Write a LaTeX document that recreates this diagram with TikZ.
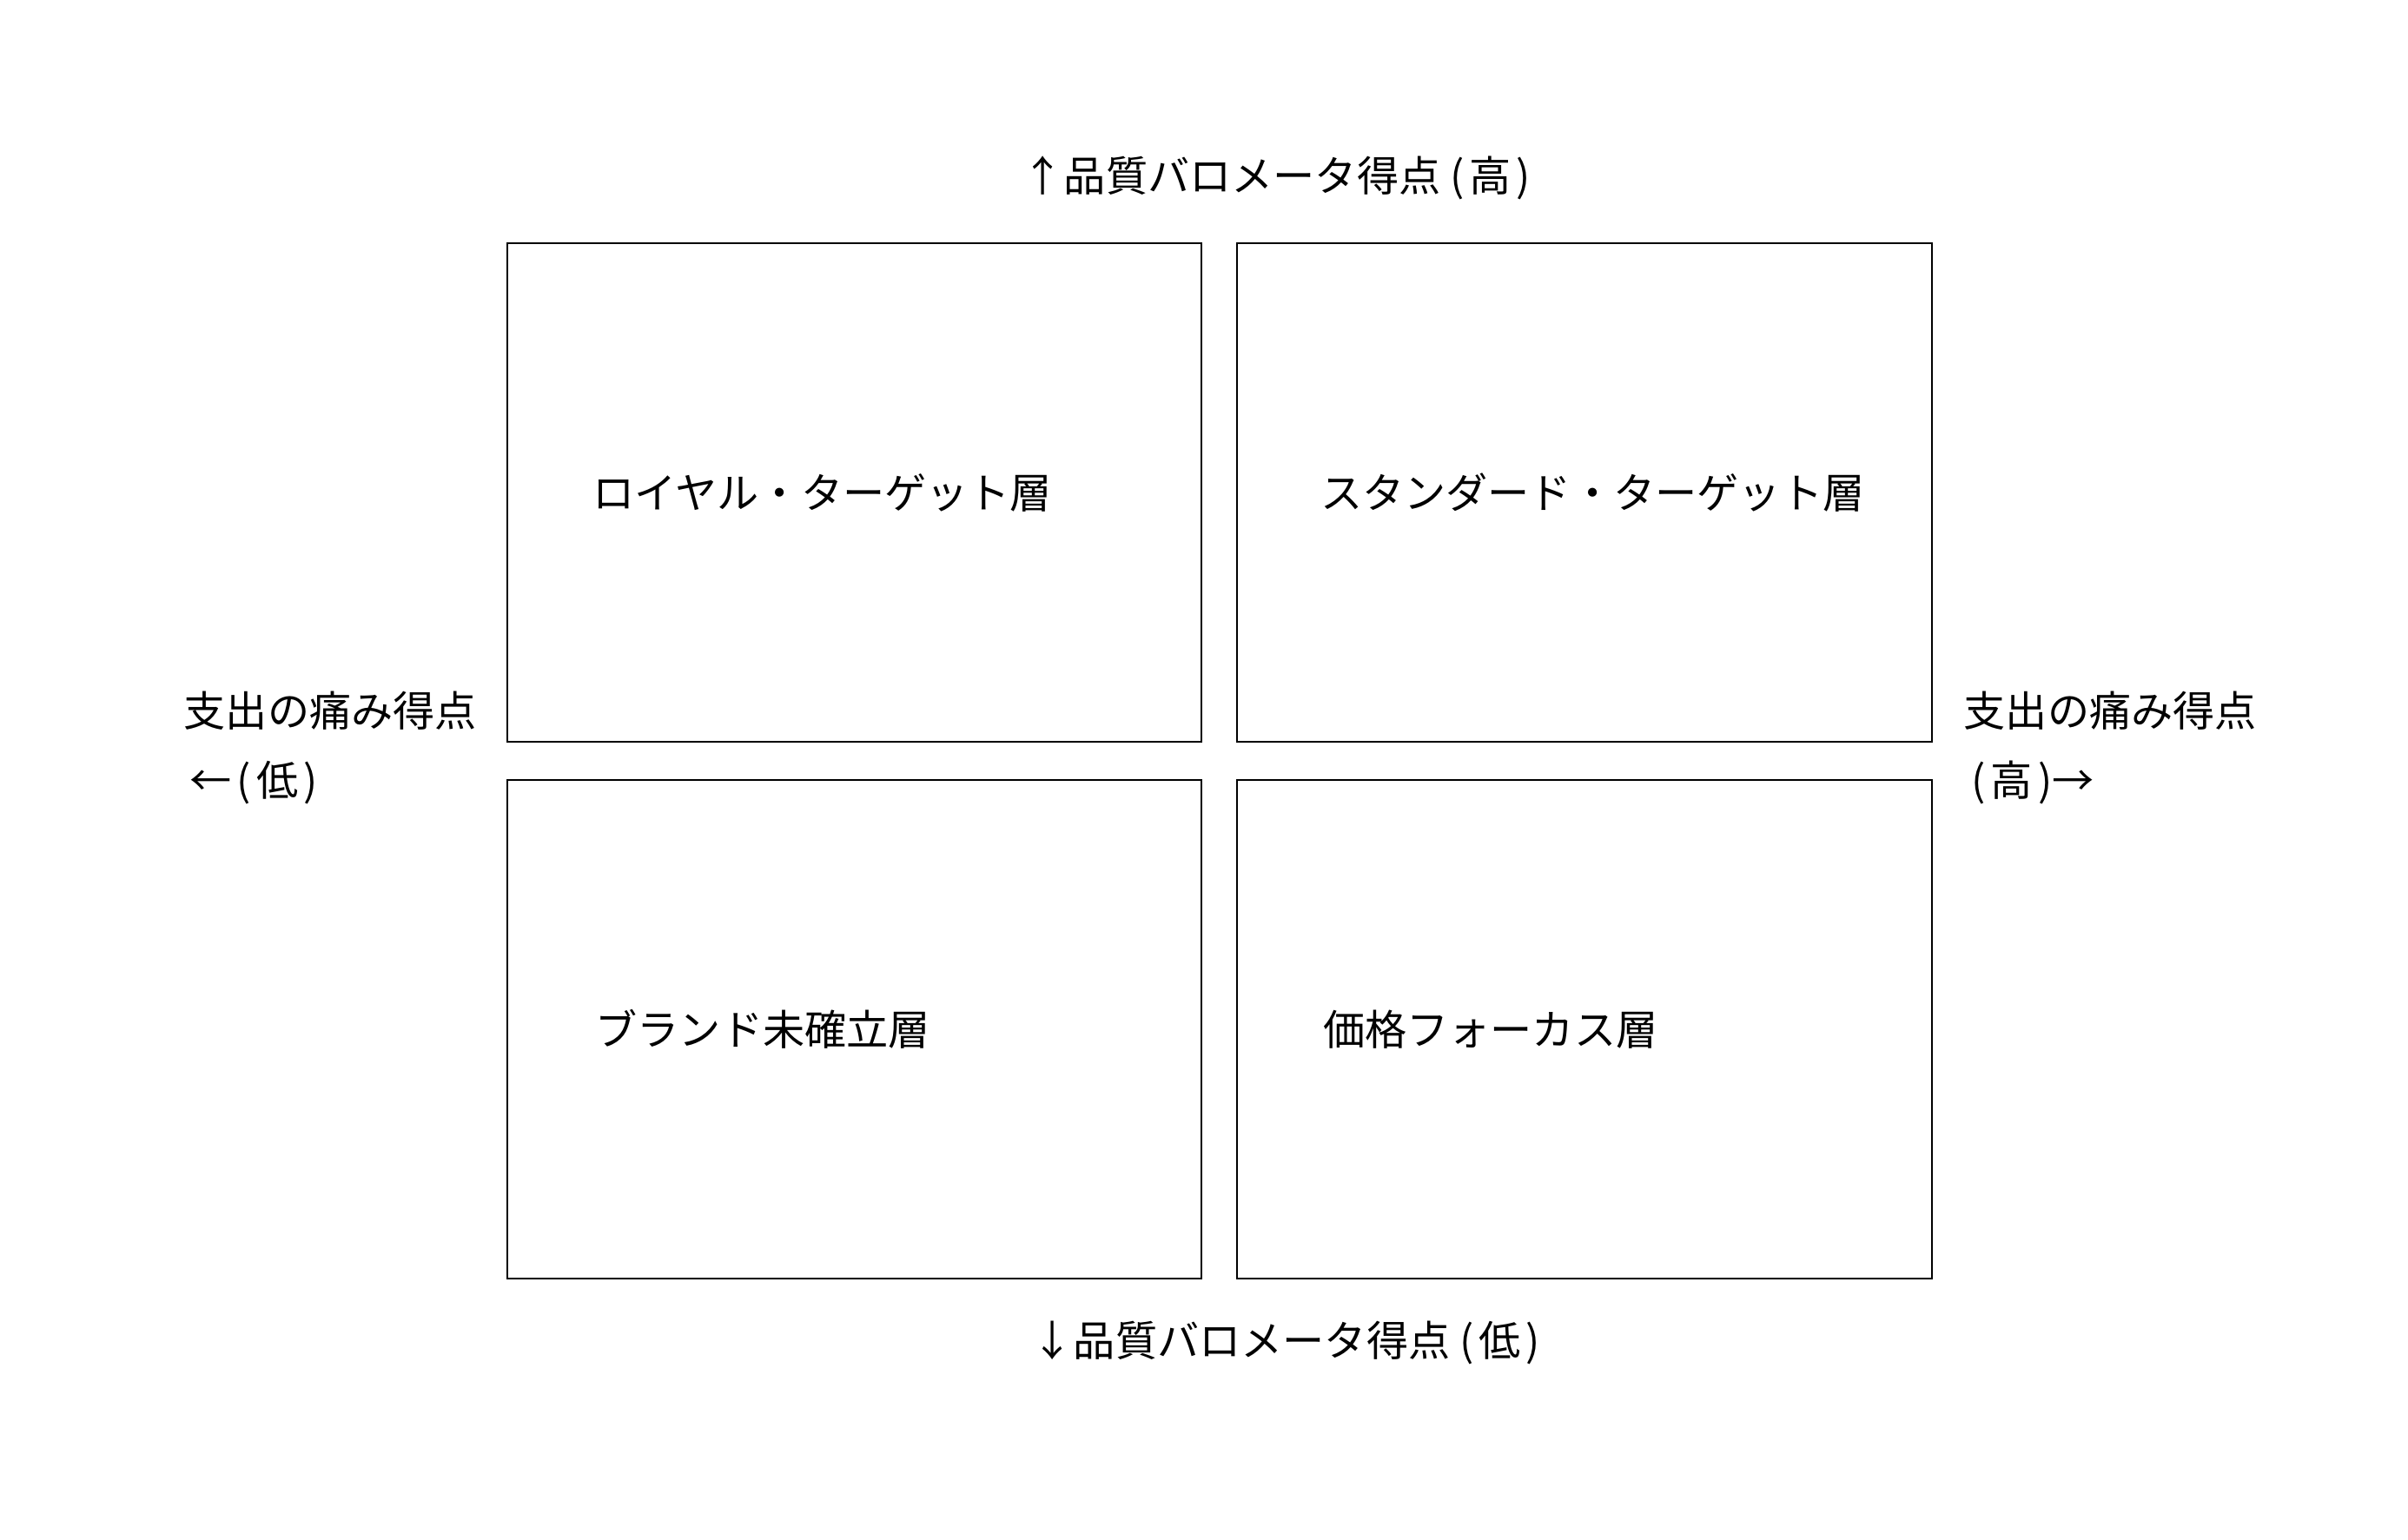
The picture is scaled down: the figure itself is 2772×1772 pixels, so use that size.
\documentclass[tikz,border=0pt]{standalone}
\usepackage{fontspec}
\newfontfamily\jpfont{Noto Sans CJK JP}
\newcommand{\gradeparen}[1]{(\kern0.06cm#1\kern0.06cm)}
\tikzset{
    quadrant/.style={draw, line width=0.55pt, minimum width=7.99cm, minimum height=5.74cm, inner sep=0pt},
    axislabel/.style={font=\jpfont\fontsize{13.7}{23}\selectfont, inner sep=0pt, align=left},
}
\begin{document}
\begin{tikzpicture}[x=0.01cm, y=-0.01cm]
            \useasboundingbox (0,0) rectangle (2772,1772);

            \begin{scope}[every node/.style={quadrant}]
                \node (TL) at (983.5,567) {};
                \node (TR) at (1824,567) {};
                \node (BL) at (983.5,1185) {};
                \node (BR) at (1824,1185) {};
            \end{scope}

            \begin{scope}[every node/.style={axislabel, anchor=west}]
                \node (TLtext) at ([xshift=0.99cm]TL.west) {ロイヤル・ターゲット層};
                \node (TRtext) at ([xshift=0.96cm]TR.west) {スタンダード・ターゲット層};
                \node (BLtext) at ([xshift=1.02cm]BL.west) {ブランド未確立層};
                \node (BRtext) at ([xshift=0.99cm]BR.west) {価格フォーカス層};
            \end{scope}

            \node[axislabel, anchor=west] (qualityHigh) at (1176,205) {↑品質バロメータ得点 \gradeparen{高}};
            \node[axislabel, anchor=west] (qualityLow) at (1187,1546) {↓品質バロメータ得点 \gradeparen{低}};
            \node[axislabel, anchor=west] (painLow) at (211,861) {支出の痛み得点\\\hspace{0.07cm}←\kern0.06cm\gradeparen{低}};
            \node[axislabel, anchor=west] (painHigh) at (2260,861) {支出の痛み得点\\\hspace{0.09cm}\gradeparen{高}→};
            \end{tikzpicture}
\end{document}
